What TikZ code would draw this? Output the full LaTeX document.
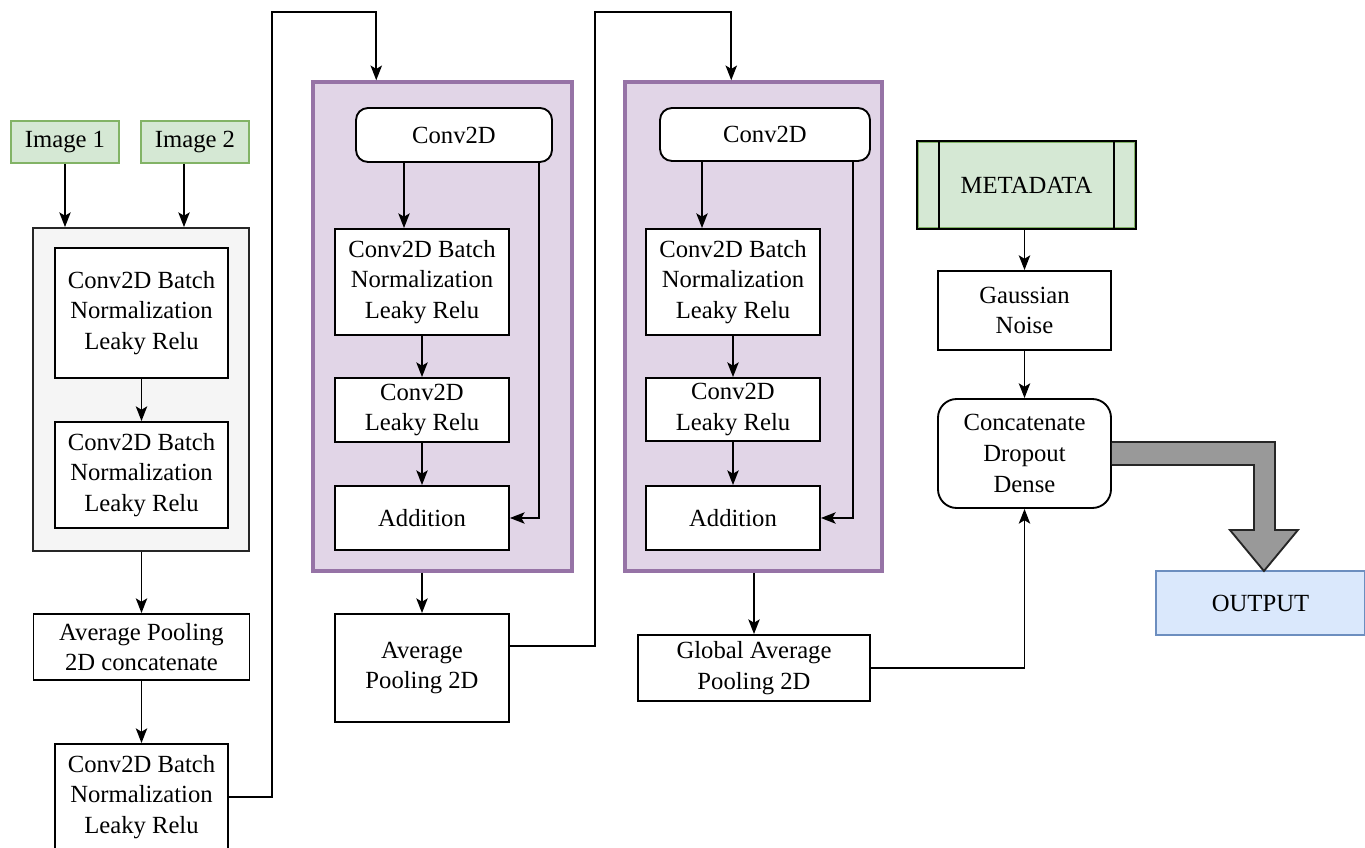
\documentclass[tikz,border=0pt]{standalone}
\usepackage{fontspec}
\setmainfont{Liberation Serif}
\usetikzlibrary{arrows.meta,calc}
\definecolor{gfill}{HTML}{D5E8D4}
\definecolor{gline}{HTML}{82B366}
\definecolor{pfill}{HTML}{E1D5E7}
\definecolor{pline}{HTML}{9673A6}
\definecolor{bfill}{HTML}{DAE8FC}
\definecolor{bline}{HTML}{6C8EBF}
\definecolor{cfill}{HTML}{F5F5F5}
\definecolor{darrow}{HTML}{999999}
\tikzset{
  base/.style={draw=black, line width=1.4pt, inner sep=0pt, align=center,
    font=\fontsize{18.5}{23}\selectfont},
  box/.style={base, fill=white},
  rbox/.style={base, fill=white, rounded corners=9pt},
  greenbox/.style={base, fill=gfill, draw=gline},
  container/.style={draw=black!85, line width=1.4pt, fill=cfill},
  purplebox/.style={draw=pline, line width=2.6pt, fill=pfill},
  bluebox/.style={base, fill=bfill, draw=bline},
  arr/.style={line width=1.4pt, -{Stealth[length=11pt,width=8.5pt,inset=2.5pt]}},
  ln/.style={line width=1.4pt},
}
\begin{document}
\begin{tikzpicture}[x=0.75pt,y=-0.75pt]
\clip (0,0) rectangle (1365,848);
\fill[white] (0,0) rectangle (1365,848);

% --- left column ---
\node[greenbox, minimum width=108*0.75pt, minimum height=42*0.75pt] (img1) at (65,142) {Image 1};
\node[greenbox, minimum width=108*0.75pt, minimum height=42*0.75pt] (img2) at (195,142) {Image 2};
\node[container, minimum width=216*0.75pt, minimum height=323*0.75pt] (g) at (141,389.5) {};
\node[box, minimum width=173*0.75pt, minimum height=130*0.75pt] (g1) at (141.5,313) {Conv2D Batch\\Normalization\\Leaky Relu};
\node[box, minimum width=173*0.75pt, minimum height=106*0.75pt] (g2) at (141.5,475) {Conv2D Batch\\Normalization\\Leaky Relu};
\node[box, minimum width=216*0.75pt, minimum height=66*0.75pt] (apc) at (141.5,647) {Average Pooling\\2D concatenate};
\node[box, minimum width=173*0.75pt, minimum height=106*0.75pt] (cb) at (141.5,797) {Conv2D Batch\\Normalization\\Leaky Relu};

\coordinate (i2s) at ($(img2.south)+(-11,0)$);
\draw[arr] (img1.south) -- (img1.south |- g.north);
\draw[arr] (i2s) -- (i2s |- g.north);
\draw[arr] (g1.south) -- (g2.north);
\draw[arr] (g.south -| apc.north) -- (apc.north);
\draw[arr] (apc.south) -- (cb.north);

% --- purple block 1 ---
\node[purplebox, minimum width=259*0.75pt, minimum height=489*0.75pt] (P1) at (442.5,326.5) {};
\node[rbox, minimum width=196*0.75pt, minimum height=54*0.75pt] (c1) at (454,135) {Conv2D};
\node[box, minimum width=174*0.75pt, minimum height=106*0.75pt] (a1) at (422,282) {Conv2D Batch\\Normalization\\Leaky Relu};
\node[box, minimum width=174*0.75pt, minimum height=64*0.75pt] (b1) at (422,410) {Conv2D\\Leaky Relu};
\node[box, minimum width=174*0.75pt, minimum height=64*0.75pt] (d1) at (422,518) {Addition};
\node[box, minimum width=174*0.75pt, minimum height=108*0.75pt] (ap) at (422,668) {Average\\Pooling 2D};

\coordinate (c1l) at ($(c1.south)+(-50,0)$);
\coordinate (c1r) at ($(c1.south)+(85,0)$);
\draw[arr] (c1l) -- (c1l |- a1.north);
\draw[arr] (a1.south) -- (b1.north);
\draw[arr] (b1.south) -- (d1.north);
\draw[arr] (c1r) |- (d1.east);
\draw[arr] (P1.south -| ap.north) -- (ap.north);

% --- purple block 2 ---
\node[purplebox, minimum width=257*0.75pt, minimum height=489*0.75pt] (P2) at (753.5,326.5) {};
\node[rbox, minimum width=210*0.75pt, minimum height=53*0.75pt] (c2) at (765,134.5) {Conv2D};
\node[box, minimum width=174*0.75pt, minimum height=106*0.75pt] (a2) at (733,282) {Conv2D Batch\\Normalization\\Leaky Relu};
\node[box, minimum width=174*0.75pt, minimum height=63*0.75pt] (b2) at (733,409.5) {Conv2D\\Leaky Relu};
\node[box, minimum width=174*0.75pt, minimum height=64*0.75pt] (d2) at (733,518) {Addition};
\node[box, minimum width=232*0.75pt, minimum height=66*0.75pt] (gap) at (754,668) {Global Average\\Pooling 2D};

\coordinate (c2l) at ($(c2.south)+(-63,0)$);
\coordinate (c2r) at ($(c2.south)+(88,0)$);
\draw[arr] (c2l) -- (c2l |- a2.north);
\draw[arr] (a2.south) -- (b2.north);
\draw[arr] (b2.south) -- (d2.north);
\draw[arr] (c2r) |- (d2.east);
\draw[arr] (P2.south -| gap.north) -- (gap.north);

% --- long connectors ---
\coordinate (p1in) at ($(P1.north west)+(65,0)$);
\coordinate (p2in) at ($(P2.north west)+(108,0)$);
\coordinate (apout) at ($(ap.north east)+(0,33)$);
\draw[arr] (cb.east) -- ($(cb.east)+(43,0)$) |- ($(p1in)+(0,-68)$) -- (p1in);
\draw[arr] (apout) -- ($(apout)+(85,0)$) |- ($(p2in)+(0,-68)$) -- (p2in);

% --- right column ---
\node[greenbox, minimum width=217*0.75pt, minimum height=86*0.75pt] (meta) at (1026.5,185) {METADATA};
\draw[ln, draw=black] ($(meta.north west)+(22,0)$) -- ($(meta.south west)+(22,0)$);
\draw[ln, draw=black] ($(meta.north east)+(-22,0)$) -- ($(meta.south east)+(-22,0)$);
\draw[ln, draw=black] (meta.north west) rectangle (meta.south east);
\node[box, minimum width=173*0.75pt, minimum height=79*0.75pt] (gn) at (1024.5,310.5) {Gaussian\\Noise};
\node[rbox, rounded corners=14pt, minimum width=173*0.75pt, minimum height=109*0.75pt] (cdd) at (1024.5,453.5) {Concatenate\\Dropout\\Dense};
\node[bluebox, minimum width=209*0.75pt, minimum height=64*0.75pt] (out) at (1260.5,603) {OUTPUT};

\draw[arr] (meta.south -| gn.north) -- (gn.north);
\draw[arr] (gn.south) -- (cdd.north);
\draw[arr] (gap.east) -| (cdd.south);

% big gray arrow
\draw[line width=1.4pt, draw=black!85, fill=darrow]
  ($(cdd.east)+(0,-11.5)$) -- ($(cdd.east)+(163,-11.5)$) -- ($(cdd.east)+(163,76.5)$)
  -- ($(cdd.east)+(186,76.5)$) -- ($(cdd.east)+(152,117.5)$) -- ($(cdd.east)+(118,76.5)$)
  -- ($(cdd.east)+(142,76.5)$) -- ($(cdd.east)+(142,11.5)$) -- ($(cdd.east)+(0,11.5)$);
\end{tikzpicture}
\end{document}
